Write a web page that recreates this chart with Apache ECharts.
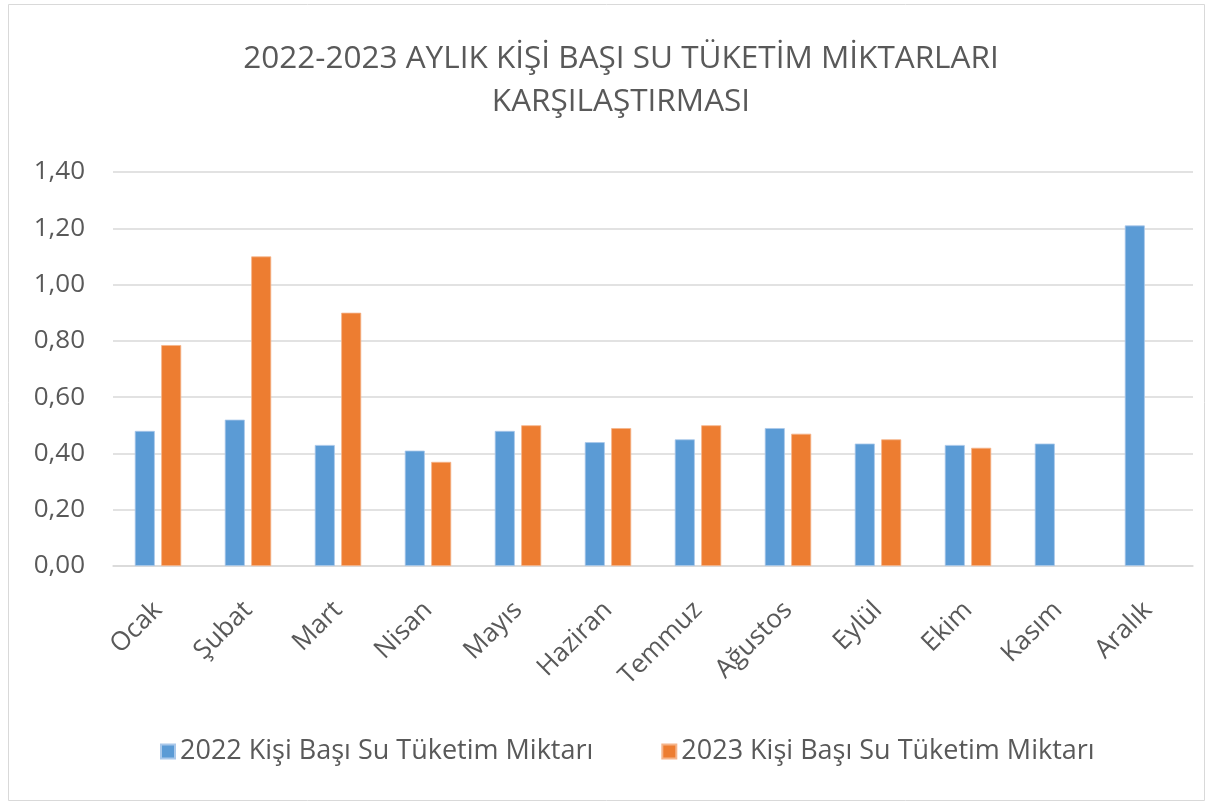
<!DOCTYPE html>
<html>
<head>
<meta charset="utf-8">
<script src="https://cdn.jsdelivr.net/npm/echarts@6/dist/echarts.min.js"></script>
<style>
html,body{margin:0;padding:0;background:#fff;}
#chart{width:1212px;height:807px;}
</style>
</head>
<body>
<div id="chart"></div>
<script>
const months = ['Ocak','Şubat','Mart','Nisan','Mayıs','Haziran','Temmuz','Ağustos','Eylül','Ekim','Kasım','Aralık'];
const series2022Name = '2022 Kişi Başı Su Tüketim Miktarı';
const series2023Name = '2023 Kişi Başı Su Tüketim Miktarı';
const values2022 = [0.48, 0.52, 0.43, 0.41, 0.48, 0.44, 0.45, 0.49, 0.435, 0.43, 0.435, 1.21];
const values2023 = [0.785, 1.10, 0.90, 0.37, 0.50, 0.49, 0.50, 0.47, 0.45, 0.42, null, null];
const yMin = 0, yMax = 1.4, yStep = 0.2;
const titleText = '2022-2023 AYLIK KİŞİ BAŞI SU TÜKETİM MİKTARLARI\nKARŞILAŞTIRMASI';

const FONT = 'Open Sans';
const chart = echarts.init(document.getElementById('chart'), null, {renderer:'canvas'});
chart.setOption({
  backgroundColor:'#ffffff',
  animation:false,
  title:{
    text: titleText,
    left:616,
    textAlign:'center',
    top:33,
    textStyle:{fontFamily:FONT, fontSize:31.5, fontWeight:'normal', color:'#595959', lineHeight:43}
  },
  graphic:[{
    type:'rect', shape:{x:8.5,y:4.5,width:1196,height:796},
    style:{fill:'none', stroke:'#d9d9d9', lineWidth:1}, silent:true
  }],
  legend:{
    bottom:37,
    left:155,
    itemWidth:14, itemHeight:14, itemGap:68,
    icon:'rect',
    textStyle:{fontFamily:FONT, fontSize:27, color:'#595959'},
    data:[series2022Name, series2023Name]
  },
  grid:{left:113, right:19, top:172, bottom:241},
  xAxis:{
    type:'category',
    data:months,
    axisLine:{lineStyle:{color:'#d9d9d9', width:1.5}},
    axisTick:{show:false},
    axisLabel:{rotate:45, margin:40, fontFamily:FONT, fontSize:26, color:'#595959'}
  },
  yAxis:{
    type:'value',
    min:yMin, max:yMax, interval:yStep,
    axisLine:{show:false},
    axisTick:{show:false},
    splitLine:{lineStyle:{color:'#d9d9d9', width:1.5}},
    axisLabel:{margin:28, fontFamily:FONT, fontSize:26, color:'#595959',
      formatter:v=>v.toFixed(2).replace('.',',')}
  },
  series:[
    {name:series2022Name, type:'bar', data:values2022, barWidth:20, barGap:'32%',
     itemStyle:{color:'#5b9bd5', borderColor:'#a9c8ea', borderWidth:0.8}},
    {name:series2023Name, type:'bar', data:values2023, barWidth:20,
     itemStyle:{color:'#ed7d31', borderColor:'#f5b48a', borderWidth:0.8}}
  ]
});
</script>
</body>
</html>
